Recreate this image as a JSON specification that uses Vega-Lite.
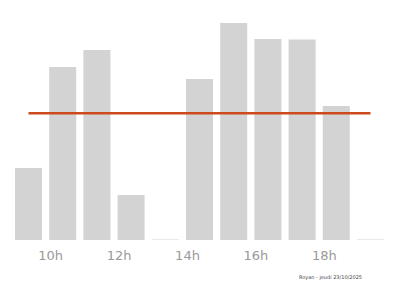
{
  "$schema": "https://vega.github.io/schema/vega-lite/v6.json",
  "width": 377,
  "height": 240,
  "autosize": "none",
  "padding": {"left": 11, "top": 0, "right": 12, "bottom": 46},
  "background": "white",
  "config": {"view": {"stroke": null}},
  "title": {
    "text": "Royan - jeudi 23/10/2025",
    "orient": "bottom",
    "anchor": "end",
    "fontSize": 5,
    "fontWeight": "normal",
    "font": "DejaVu Sans",
    "color": "#444444",
    "dx": -26,
    "offset": 13
  },
  "data": {
    "values": [
      {"heure": "9h", "valeur": 72},
      {"heure": "10h", "valeur": 173},
      {"heure": "11h", "valeur": 190},
      {"heure": "12h", "valeur": 45},
      {"heure": "13h", "valeur": 0.5},
      {"heure": "14h", "valeur": 161},
      {"heure": "15h", "valeur": 217},
      {"heure": "16h", "valeur": 201},
      {"heure": "17h", "valeur": 200.5},
      {"heure": "18h", "valeur": 134},
      {"heure": "19h", "valeur": 0.5}
    ]
  },
  "encoding": {
    "x": {
      "field": "heure",
      "type": "ordinal",
      "sort": null,
      "scale": {"paddingInner": 0.21, "paddingOuter": 0.117},
      "axis": {
        "title": null,
        "values": ["10h", "12h", "14h", "16h", "18h"],
        "labelAngle": 0,
        "domain": false,
        "ticks": false,
        "labelFont": "DejaVu Sans",
        "labelFontSize": 13,
        "labelColor": "#999999",
        "labelPadding": 9,
        "labelOffset": -12
      }
    }
  },
  "layer": [
    {
      "mark": {"type": "bar", "color": "#d3d3d3"},
      "encoding": {
        "y": {
          "field": "valeur",
          "type": "quantitative",
          "scale": {"domain": [0, 240], "nice": false},
          "axis": null
        }
      }
    },
    {
      "transform": [{"joinaggregate": [{"op": "mean", "field": "valeur", "as": "moyenne"}]}],
      "mark": {"type": "line", "color": "#cc4a1c", "strokeWidth": 2.5},
      "encoding": {
        "y": {"field": "moyenne", "type": "quantitative", "scale": {"domain": [0, 240], "nice": false}, "axis": null}
      }
    }
  ]
}
